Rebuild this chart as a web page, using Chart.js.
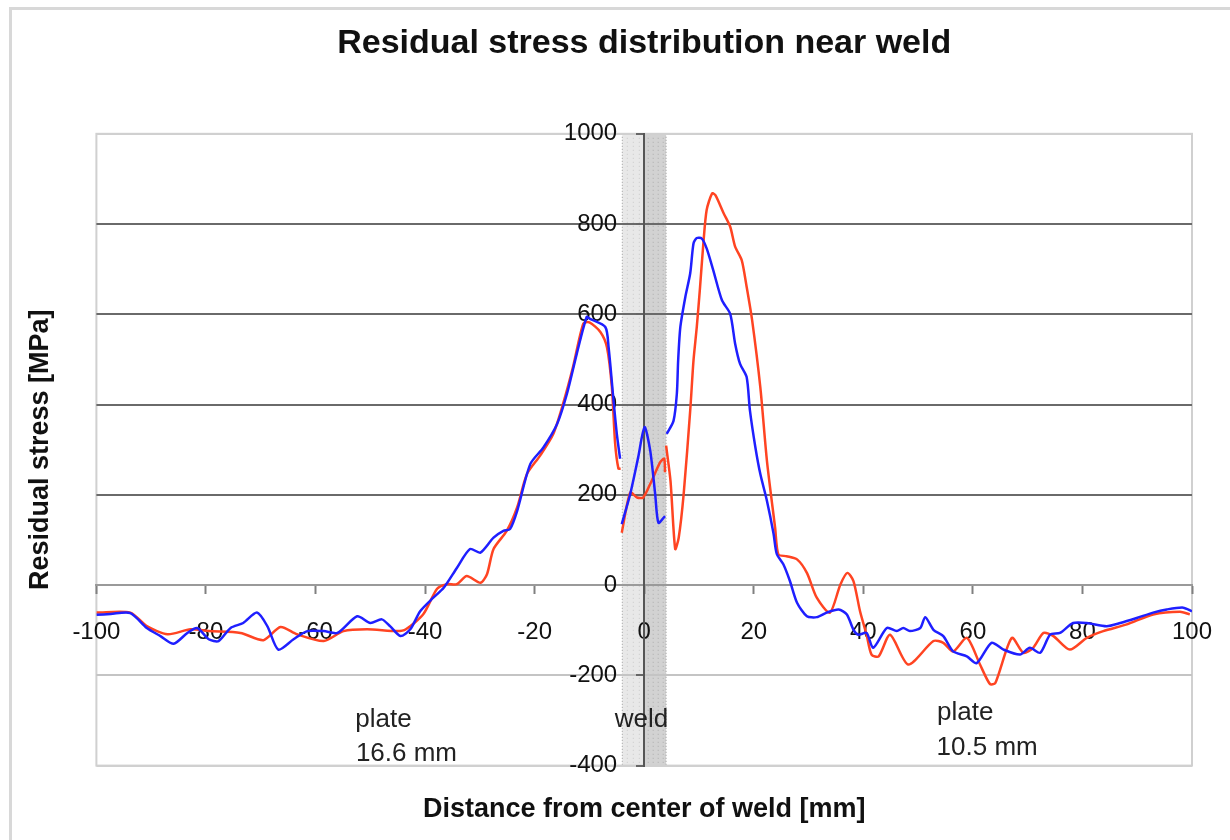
<!DOCTYPE html>
<html>
<head>
<meta charset="utf-8">
<script src="https://cdn.jsdelivr.net/npm/chart.js@4/dist/chart.umd.min.js"></script>
<style>
  html, body { margin: 0; padding: 0; background: #fff; overflow: hidden; }
  #frame { position: absolute; left: 9px; top: 7px; width: 1300px; height: 900px; border: 3px solid #d8d8d8; }
  #wrap { position: absolute; left: 0; top: 0; width: 1230px; height: 840px; }
</style>
</head>
<body>
<div id="frame"></div>
<div id="wrap"><canvas id="chart" width="1230" height="840"></canvas></div>
<script>
// distance from weld centre [mm] and residual stress [MPa]
// null = break in the measured line at the weld edges
var blueX = [-100, -97.4, -93.8, -90.8, -88.3, -85.9, -83.4, -81.6, -79.5, -77.7, -75.5, -73.2, -70.7, -68.8, -66.8, -64,
    -61.5, -58.5, -56, -52.4, -50, -47.9, -46.4, -44.5, -42.7, -40.9, -38.5, -36.6, -34.2, -31.8, -29.9, -27.5, -25.7,
    -24.5, -23.2, -20.8, -18.4, -15.9, -14.1, -12.3, -10.5, -9.9, -7.1, -6.5, -5.6, -5.0, -4.4,
    -4.2,
    -4.1, -2.55, -1.1, 0.06, 1.1, 2.0, 2.6, 3.8,
    4.0,
    4.1, 5.35, 5.96, 6.2, 6.6, 7.5, 8.4, 9.0, 9.6, 10.5, 11.4, 12.6, 14.2, 15.7, 16.6, 17.5, 18.7, 19.3, 20.3, 21.2,
    22.4, 23.6, 24.2, 25.4, 26.6, 27.9, 29.7, 31.5, 33.3, 35.5, 37.0, 38.2, 39.1, 40.6, 41.8, 44.3, 46.1, 47.3, 48.5,
    50.4, 51.3, 52.8, 54.6, 56.4, 58.9, 60.7, 63.4, 65.6, 68.6, 70.4, 72.3, 74.1, 75.9, 78.3, 80.8, 84.4, 86.9, 89.9,
    92.9, 95.4, 98.4, 100];
var blueY = [-66, -64, -62, -95, -113, -130, -106, -95, -120, -124, -95, -84, -61, -91, -143, -120,
    -102, -102, -106, -69, -84, -76, -91, -113, -98, -58, -28, -6, 38, 80, 72, 105, 120,
    124, 164, 268, 305, 357, 424, 513, 594, 590, 572, 527, 409, 335, 280,
    null,
    135, 202, 283, 350, 298, 202, 138, 153,
    null,
    335, 364, 424, 498, 572, 638, 691, 757, 769, 768, 746, 698, 631, 601, 535, 490, 461, 387, 305, 246,
    187, 115, 69, 46, 9, -39, -69, -71, -61, -54, -65, -99, -110, -106, -139, -95, -102, -95, -102,
    -95, -71, -99, -113, -147, -158, -173, -128, -143, -154, -139, -150, -110, -106, -84, -84, -91, -84, -73,
    -61, -54, -50, -58];

var redX = [-100, -93.8, -90.8, -87, -82.8, -79.5, -73.7, -69.5, -66.4, -63.4, -58.5, -54.9, -50.6, -45.1, -43.5, -40.3,
    -37.8, -36, -34.2, -32.4, -29.9, -28.7, -27.5, -25.1, -23.2, -21.4, -19.0, -16.6, -14.8, -13.0, -11.1, -10.0,
    -8.0, -6.8, -5.9, -5.3, -4.7, -4.3,
    -4.2,
    -4.1, -2.55, -1.3, -0.2, 1.1, 2.9, 3.65, 3.8,
    3.9,
    4.0, 4.8, 5.66, 6.3, 7.2, 8.4, 9.0, 9.6, 10.2, 10.8, 11.4, 12.4, 13.0, 14.5, 15.7, 16.6, 17.8, 18.7, 19.7, 21.2,
    22.4, 23.9, 24.5, 26.0, 27.9, 29.7, 31.5, 33.9, 35.8, 37.1, 38.2, 39.4, 40.6, 41.5, 42.8, 44.9, 48.2, 52.8, 54.6,
    56.4, 58.9, 61.3, 63.1, 64.1, 67.1, 69.2, 71.0, 72.9, 74.7, 77.7, 80.8, 83.8, 88.1, 92.9, 97.8, 99.6];
var redY = [-61, -61, -91, -109, -98, -102, -106, -122, -93, -109, -124, -102, -98, -102, -98, -64,
    -8, 2, 2, 20, 5, 24, 80, 120, 172, 246, 287, 335, 402, 483, 580, 582,
    561, 527, 438, 313, 258, 258,
    null,
    116, 205, 194, 194, 224, 272, 280, 250,
    null,
    309, 231, 80, 105, 201, 387, 498, 572, 661, 757, 831, 868, 864, 824, 794, 750, 720, 661, 587, 438,
    276, 127, 68, 64, 57, 27, -28, -61, 1, 27, 9, -58, -110, -154, -158, -110, -176, -124, -128,
    -147, -117, -176, -219, -217, -117, -150, -139, -106, -113, -143, -117, -102, -87, -65, -59, -65];

var xTicks = [-100, 100, 20];   // min, max, step
var yTicks = [-400, 1000, 200];
var weldZone = [-4, 0, 4];      // weld band edges [mm]

function toPoints(xs, ys) {
    return xs.map(function (x, i) { return {x: x, y: ys[i]}; });
}

// keep the tick labels from pushing the plot area in
function noLabelPadding(scale) {
    scale.paddingLeft = 0;
    scale.paddingRight = 0;
}

var font = "'Liberation Sans', Arial, sans-serif";

var weldPlugin = {
    id: 'weld',
    beforeDraw: function (chart) {
        var ctx = chart.ctx, a = chart.chartArea, sx = chart.scales.x;
        var x0 = sx.getPixelForValue(weldZone[0]);
        var x1 = sx.getPixelForValue(weldZone[1]);
        var x2 = sx.getPixelForValue(weldZone[2]);
        ctx.save();
        ctx.fillStyle = '#e8e8e8';
        ctx.fillRect(x0, a.top, x1 - x0, a.bottom - a.top);
        ctx.fillStyle = '#d2d2d2';
        ctx.fillRect(x1, a.top, x2 - x1, a.bottom - a.top);
        // dotted texture
        ctx.strokeStyle = '#ababab';
        ctx.lineWidth = 1;
        ctx.setLineDash([1, 3]);
        for (var xx = x1 + 4; xx < x2; xx += 5) {
            ctx.beginPath();
            ctx.moveTo(xx, a.top);
            ctx.lineTo(xx, a.bottom);
            ctx.stroke();
        }
        ctx.strokeStyle = '#c8c8c8';
        for (xx = x0 + 5; xx < x1; xx += 6) {
            ctx.beginPath();
            ctx.moveTo(xx, a.top);
            ctx.lineTo(xx, a.bottom);
            ctx.stroke();
        }
        ctx.strokeStyle = '#9a9a9a';
        ctx.setLineDash([1, 2]);
        [x0, x2].forEach(function (xx) {
            ctx.beginPath();
            ctx.moveTo(xx, a.top);
            ctx.lineTo(xx, a.bottom);
            ctx.stroke();
        });
        // plot frame
        ctx.setLineDash([]);
        ctx.strokeStyle = '#d0d0d0';
        ctx.lineWidth = 2;
        ctx.strokeRect(a.left, a.top, a.right - a.left, a.bottom - a.top);
        ctx.restore();
    },
    afterDraw: function (chart) {
        var ctx = chart.ctx, sx = chart.scales.x, sy = chart.scales.y;
        var notes = [
            ['plate', -47.6, -298],
            ['16.6 mm', -43.4, -373],
            ['weld', -0.5, -298],
            ['plate', 58.6, -284],
            ['10.5 mm', 62.6, -360]
        ];
        ctx.save();
        ctx.fillStyle = '#222';
        ctx.font = '26px ' + font;
        ctx.textAlign = 'center';
        ctx.textBaseline = 'middle';
        notes.forEach(function (n) {
            ctx.fillText(n[0], sx.getPixelForValue(n[1]), sy.getPixelForValue(n[2]));
        });
        ctx.restore();
    }
};

new Chart(document.getElementById('chart'), {
    type: 'line',
    data: {
        datasets: [
            {
                label: 'plate 16.6 mm side',
                data: toPoints(blueX, blueY),
                borderColor: '#1f1fff',
                borderWidth: 2.5,
                pointRadius: 0,
                tension: 0.25,
                fill: false
            },
            {
                label: 'plate 10.5 mm side',
                data: toPoints(redX, redY),
                borderColor: '#ff4422',
                borderWidth: 2.5,
                pointRadius: 0,
                tension: 0.25,
                fill: false
            }
        ]
    },
    options: {
        responsive: false,
        animation: false,
        layout: { padding: { left: 0, right: 38, top: 0, bottom: 0 } },
        plugins: {
            legend: { display: false },
            tooltip: { enabled: false },
            title: {
                display: true,
                fullSize: false,
                text: 'Residual stress distribution near weld',
                color: '#111',
                font: { family: font, size: 34, weight: 'bold' },
                padding: { top: 23, bottom: 70 }
            }
        },
        scales: {
            x: {
                type: 'linear',
                position: { y: 0 },
                min: xTicks[0],
                max: xTicks[1],
                afterFit: noLabelPadding,
                ticks: {
                    stepSize: xTicks[2],
                    autoSkip: false,
                    maxRotation: 0,
                    padding: 25,
                    color: '#111',
                    font: { family: font, size: 24 }
                },
                grid: { drawOnChartArea: false, drawTicks: true, tickLength: 8, tickColor: '#808080', tickWidth: 2 },
                border: { display: true, color: '#9a9a9a', width: 2 }
            },
            y: {
                type: 'linear',
                position: 'center',
                min: yTicks[0],
                max: yTicks[1],
                ticks: {
                    stepSize: yTicks[2],
                    padding: 20,
                    color: '#111',
                    font: { family: font, size: 24 },
                    callback: function (v) { return String(v); }
                },
                grid: {
                    drawTicks: true,
                    tickLength: 7,
                    tickColor: '#666',
                    lineWidth: 2,
                    color: function (c) {
                        var v = c.tick && c.tick.value;
                        if (v === yTicks[0] || v === yTicks[1]) return '#d0d0d0';
                        if (v === 0) return '#9a9a9a';
                        if (v < 0) return '#c4c4c4';
                        return '#6a6a6a';
                    }
                },
                border: { display: true, color: '#555', width: 2 }
            },
            xTitle: {
                type: 'linear',
                position: 'bottom',
                min: xTicks[0],
                max: xTicks[1],
                afterFit: noLabelPadding,
                ticks: { display: false },
                grid: { display: false, drawTicks: false },
                border: { display: false },
                title: {
                    display: true,
                    text: 'Distance from center of weld [mm]',
                    color: '#111',
                    font: { family: font, size: 27, weight: 'bold' },
                    padding: { top: 28, bottom: 14 }
                }
            },
            yTitle: {
                type: 'linear',
                position: 'left',
                min: yTicks[0],
                max: yTicks[1],
                ticks: { display: false },
                grid: { display: false, drawTicks: false },
                border: { display: false },
                title: {
                    display: true,
                    text: 'Residual stress [MPa]',
                    color: '#111',
                    font: { family: font, size: 27, weight: 'bold' },
                    padding: { top: 24, bottom: 40 }
                }
            }
        }
    },
    plugins: [weldPlugin]
});
</script>
</body>
</html>
